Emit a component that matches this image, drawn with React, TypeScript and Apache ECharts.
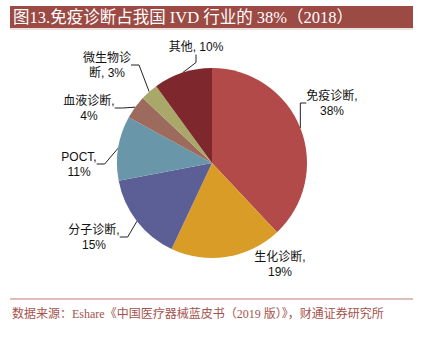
import React, { useEffect, useRef } from "react";
import * as echarts from "echarts";

const categories = ["免疫诊断", "生化诊断", "分子诊断", "POCT", "血液诊断", "微生物诊断", "其他"];
const values = [38, 19, 15, 11, 4, 3, 10];
const labelTexts = ["免疫诊断,\n38%", "生化诊断,\n19%", "分子诊断,\n15%", "POCT,\n11%", "血液诊断,\n4%", "微生物诊\n断, 3%", "其他, 10%"];
const colors = ["#B24A4A", "#D99D27", "#5B5F95", "#6A96A9", "#9C6B5D", "#A9A869", "#7E282D"];
const labelPos: [number, number][] = [
  [332, 103],
  [280, 264],
  [94, 237],
  [79, 164],
  [89, 108],
  [107, 65],
  [196, 47],
];

export default function App() {
  const ref = useRef<HTMLDivElement>(null);
  useEffect(() => {
    document.body.style.margin = "0";
    const chart = echarts.init(ref.current!, null, { renderer: "svg" });
    chart.setOption({
      animation: false,
      backgroundColor: "#ffffff",
      graphic: [
        { type: "rect", shape: { x: 10, y: 6, width: 403, height: 22 }, style: { fill: "#9C4A44" } },
        { type: "line", shape: { x1: 10, y1: 29, x2: 413, y2: 29 }, style: { stroke: "#dcc0bd", lineWidth: 1 } },
        {
          type: "text",
          x: 13,
          y: 17,
          style: {
            text: "图13.免疫诊断占我国 IVD 行业的 38%（2018）",
            fill: "#ffffff",
            font: '16.5px "Liberation Serif", "Noto Sans CJK SC"',
            verticalAlign: "middle",
          },
        },
        { type: "line", shape: { x1: 10, y1: 299, x2: 413, y2: 299 }, style: { stroke: "#d3a8a6", lineWidth: 1.5 } },
        {
          type: "text",
          x: 12,
          y: 314,
          style: {
            text: "数据来源：Eshare《中国医疗器械蓝皮书（2019 版）》，财通证券研究所",
            fill: "#A5524C",
            font: '12px "Liberation Serif", "Noto Sans CJK SC"',
            verticalAlign: "middle",
          },
        },
      ],
      series: [
        {
          type: "pie",
          center: [212, 163],
          radius: [0, 95],
          startAngle: 90,
          clockwise: true,
          data: categories.map((c, i) => ({
            name: c,
            value: values[i],
            itemStyle: { color: colors[i] },
            labelLine: { show: i !== 1 },
          })),
          label: {
            show: true,
            formatter: (p: any) => labelTexts[p.dataIndex],
            color: "#111111",
            fontSize: 12,
            lineHeight: 15,
            fontFamily: '"Liberation Sans", "Noto Sans CJK SC"',
            align: "center",
          },
          labelLine: { show: true, lineStyle: { color: "#222222", width: 1 }, length: 8, length2: 8 },
          labelLayout: (params: any) => {
            const p = labelPos[params.dataIndex];
            return { x: p[0], y: p[1], align: "center", verticalAlign: "middle" };
          },
        },
      ],
    });
    return () => chart.dispose();
  }, []);
  return <div ref={ref} style={{ width: 421, height: 341 }} />;
}
